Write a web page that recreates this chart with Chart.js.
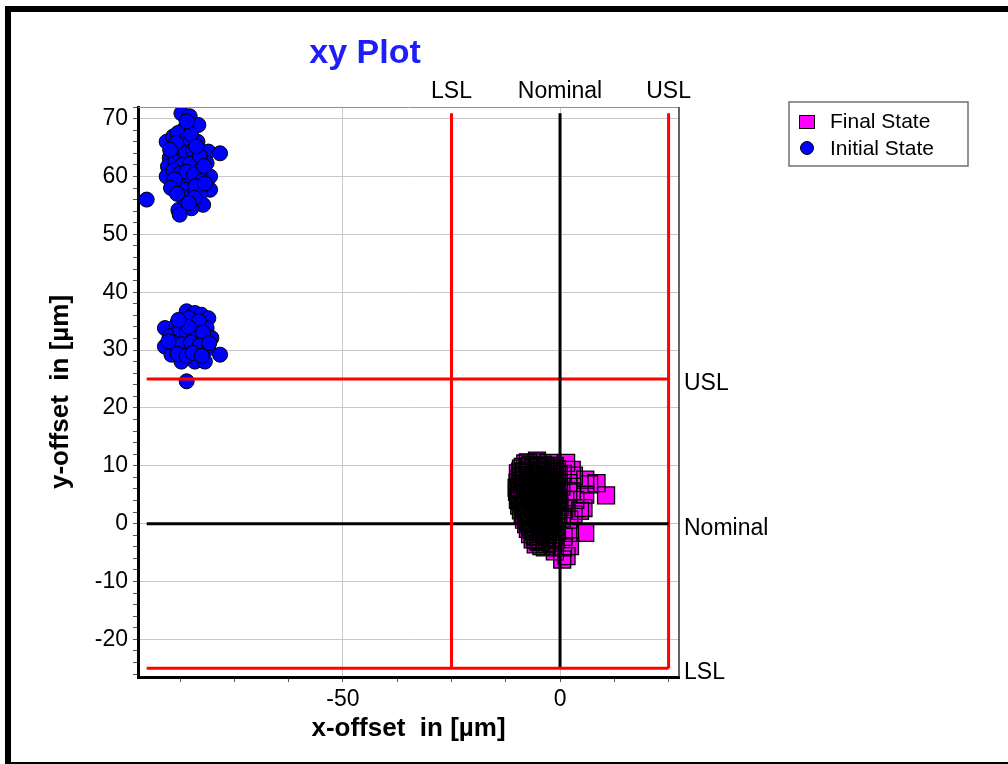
<!DOCTYPE html>
<html><head><meta charset="utf-8">
<script src="https://cdn.jsdelivr.net/npm/chart.js@4/dist/chart.umd.min.js"></script>
<style>html,body{margin:0;padding:0;background:#fff;}canvas{display:block;}</style>
</head><body>
<canvas id="c" width="1008" height="764"></canvas>
<script>
// ---------- data ----------
const seriesNames = ['Final State', 'Initial State'];
const limitNames = ['LSL', 'Nominal', 'USL'];
const limitValues = [-25, 0, 25];
const xTickValues = [-87.5, -75, -62.5, -50, -37.5, -25, -12.5, 0, 12.5, 25];
const xLabelValues = [-50, 0];
const yTickValues = [-26,-24,-22,-20,-18,-16,-14,-12,-10,-8,-6,-4,-2,0,2,4,6,8,10,12,14,16,18,20,22,24,26,28,30,32,34,36,38,40,42,44,46,48,50,52,54,56,58,60,62,64,66,68,70,72];
const yLabelValues = [-20, -10, 0, 10, 20, 30, 40, 50, 60, 70];

const initialState = [
 [-87.2,70.9],[-85.3,70.4],[-84.9,68.9],[-83.3,68.9],[-86.8,68.0],[-90.6,66.0],[-89.1,66.9],[-85.6,65.7],
 [-81.0,64.3],[-78.3,64.0],[-89.9,63.2],[-90.3,61.7],[-83.7,62.6],[-81.4,62.3],[-90.6,60.0],[-80.6,60.0],
 [-85.6,59.1],[-87.6,58.5],[-80.6,57.7],[-82.9,57.1],[-86.0,57.7],[-95.2,56.0],[-82.2,55.1],[-84.9,54.5],
 [-87.9,54.2],[-87.6,53.4],[-88.0,67.5],[-86.5,66.2],[-87.8,64.8],[-86.2,64.0],[-84.5,64.5],[-88.6,62.5],
 [-87.0,62.0],[-85.2,62.2],[-83.0,61.0],[-89.0,61.0],[-87.5,60.5],[-86.0,60.8],[-84.3,60.3],[-82.5,59.2],
 [-88.8,59.5],[-89.6,58.0],[-84.0,58.3],[-81.8,58.8],[-86.8,56.4],[-84.2,56.3],[-85.5,55.4],[-83.5,66.0],
 [-85.0,67.3],[-86.0,69.5],[-88.4,65.8],[-89.8,64.6],[-83.0,63.6],[-82.0,61.8],[-88.2,57.0],[-83.8,65.2],
 [-86.0,36.7],[-84.1,36.4],[-82.6,36.1],[-81.0,35.5],[-91.0,33.8],[-88.3,34.4],[-86.8,34.9],[-84.5,34.4],
 [-81.4,33.8],[-80.3,32.1],[-89.9,32.4],[-87.6,32.1],[-85.3,32.6],[-82.9,31.8],[-91.0,30.6],[-88.7,30.3],
 [-86.4,30.3],[-83.7,30.1],[-81.0,30.3],[-78.3,29.2],[-89.5,29.2],[-87.2,28.0],[-84.1,28.0],[-81.8,28.0],
 [-86.0,24.6],[-85.5,35.5],[-83.2,35.0],[-87.5,33.5],[-86.0,33.2],[-84.0,33.0],[-82.2,33.0],[-89.0,31.2],
 [-87.0,31.0],[-85.0,31.3],[-83.0,30.8],[-88.0,29.3],[-86.0,29.0],[-84.6,29.5],[-82.5,29.0],[-90.2,31.5],
 [-80.8,31.2],[-85.6,34.0],[-87.9,35.2]
];

const finalState = [
 [-8.0,10.4],[-6.8,10.1],[-5.4,10.6],[-4.0,10.2],[-2.6,10.5],[-1.2,10.0],
 [-9.0,9.5],[-7.5,9.2],[-6.1,9.6],[-4.6,9.3],[-3.3,9.7],[-1.9,9.1],[-0.7,9.4],
 [-9.7,8.7],[-8.3,8.4],[-7.0,8.8],[-5.7,8.5],[-4.3,8.9],[-2.9,8.3],[-1.5,8.7],[-0.3,8.5],
 [-9.3,7.9],[-8.0,7.6],[-6.6,8.0],[-5.2,7.7],[-3.8,7.9],[-2.4,7.5],[-1.1,7.8],
 [-9.8,7.1],[-8.6,6.8],[-7.3,7.2],[-5.9,6.9],[-4.6,7.1],[-3.2,6.7],[-1.9,7.0],[-0.6,6.9],
 [-9.5,6.3],[-8.1,6.0],[-6.8,6.4],[-5.3,6.1],[-4.0,6.3],[-2.7,5.9],[-1.3,6.2],[-0.2,6.0],
 [-9.9,5.5],[-8.7,5.2],[-7.4,5.6],[-6.1,5.3],[-4.8,5.5],[-3.5,5.1],[-2.1,5.4],[-0.8,5.2],
 [-9.6,4.7],[-8.2,4.4],[-6.9,4.8],[-5.6,4.5],[-4.2,4.7],[-2.9,4.3],[-1.6,4.6],[-0.3,4.4],
 [-9.2,3.9],[-7.8,3.6],[-6.4,4.0],[-5.0,3.7],[-3.7,3.9],[-2.4,3.5],[-1.0,3.8],
 [-9.4,3.1],[-8.0,2.8],[-6.7,3.2],[-5.4,2.9],[-4.1,3.1],[-2.7,2.7],[-1.3,3.0],[-0.1,2.9],
 [-9.0,2.3],[-7.6,2.0],[-6.2,2.4],[-4.9,2.1],[-3.5,2.3],[-2.2,1.9],[-0.8,2.2],
 [-8.6,1.5],[-7.2,1.2],[-5.8,1.6],[-4.4,1.3],[-3.0,1.5],[-1.7,1.1],[-0.4,1.4],
 [-8.3,0.7],[-6.9,0.4],[-5.5,0.8],[-4.1,0.5],[-2.8,0.7],[-1.4,0.3],
 [-7.8,-0.1],[-6.4,-0.4],[-5.0,0.0],[-3.6,-0.3],[-2.3,-0.1],[-1.0,-0.5],
 [-7.4,-0.9],[-6.0,-1.2],[-4.7,-0.8],[-3.3,-1.1],[-1.9,-0.9],[-0.7,-1.3],
 [-6.9,-1.8],[-5.5,-2.1],[-4.2,-1.7],[-2.8,-2.0],[-1.5,-1.8],
 [-6.3,-2.7],[-5.0,-3.0],[-3.7,-2.6],[-2.3,-2.9],[-1.0,-2.7],
 [-5.6,-3.6],[-4.3,-3.9],[-3.0,-3.5],[-1.6,-3.8],
 [-8.6,9.8],[-7.2,9.9],[-4.8,9.8],[-3.4,10.0],[-1.8,9.7],
 [-8.4,9.0],[-5.3,9.1],[-2.6,8.9],[-1.1,9.0],
 [-8.9,8.2],[-6.3,8.1],[-3.5,8.3],[-2.0,8.1],
 [-9.1,7.4],[-7.0,7.5],[-4.3,7.4],[-1.5,7.3],
 [-8.2,6.6],[-5.5,6.5],[-2.5,6.6],[-1.0,6.5],
 [-9.2,5.8],[-7.1,5.9],[-4.4,5.8],[-1.7,5.7],
 [-8.0,5.0],[-5.2,4.9],[-2.5,5.0],[-1.2,4.9],
 [-8.8,4.2],[-6.0,4.1],[-3.3,4.3],[-0.7,4.1],
 [-8.6,3.4],[-5.9,3.3],[-3.2,3.5],[-1.8,3.3],
 [-8.4,2.6],[-5.7,2.5],[-3.0,2.6],[-1.5,2.5],
 [-7.9,1.8],[-5.2,1.8],[-2.5,1.7],
 [-7.5,1.0],[-4.8,0.9],[-2.1,1.0],
 [-7.1,0.2],[-4.3,0.2],[-1.7,0.1],
 [-6.7,-0.6],[-4.0,-0.6],[-2.6,-0.7],
 [-6.2,-1.4],[-3.6,-1.5],[-1.2,-1.4],
 [-5.8,-2.3],[-3.2,-2.3],[-1.9,-2.4],
 [-4.7,-3.2],[-2.0,-3.3],
 [10.6,4.9],[8.4,7.0],[6.7,6.8],[5.8,7.6],[5.8,5.0],[5.4,2.7],[4.6,2.2],[2.7,9.3],[1.9,7.0],
 [2.7,5.6],[3.5,4.1],[3.1,1.6],[2.1,0.7],[2.3,-1.6],[5.8,-1.6],[2.3,-3.9],[1.5,-5.6],[0.7,-4.1],
 [1.2,4.1],[3.2,8.3],[1.4,10.5],[-1.5,9.9],[-5.3,10.9],[-7.4,10.6],[-9.2,9.0],[-10.0,6.2],
 [-9.7,4.1],[-8.3,1.6],[-6.9,-1.0],[-5.5,-2.8],[-3.5,-4.1],[-1.2,-4.8],[0.5,-6.2],[0.4,0.9],
 [0.8,-2.3],[1.0,2.5],[0.3,6.4],[0.6,8.6]
];

// ---------- build ----------
const FONT = '"Liberation Sans", Arial, sans-serif';
const toPts = arr => arr.map(p => ({x: p[0], y: p[1]}));
const allX = initialState.concat(finalState).map(p => p[0]);
const allY = initialState.concat(finalState).map(p => p[1]);
const lineXStart = Math.min(...allX);
const lineYEnd = Math.max(...allY);
const lineColor = v => v === 0 ? '#000000' : '#ff0000';

const limitDatasets = [];
limitValues.forEach(v => {
  limitDatasets.push({label: 'v' + v, data: [{x: v, y: limitValues[0]}, {x: v, y: lineYEnd}],
    showLine: true, borderColor: lineColor(v), borderWidth: 3, pointRadius: 0, order: 0});
  limitDatasets.push({label: 'h' + v, data: [{x: lineXStart, y: v}, {x: limitValues[2], y: v}],
    showLine: true, borderColor: lineColor(v), borderWidth: 3, pointRadius: 0, order: 0});
});

const decor = {
  id: 'decor',
  beforeDraw(chart) {
    const ctx = chart.ctx;
    ctx.save(); ctx.fillStyle = '#fff'; ctx.fillRect(0, 0, chart.width, chart.height); ctx.restore();
  },
  afterDraw(chart) {
    const {ctx, chartArea: a, scales: {x, y}} = chart;
    ctx.save();
    // plot frame top / right
    ctx.strokeStyle = '#909090'; ctx.lineWidth = 1;
    ctx.beginPath(); ctx.moveTo(a.left, a.top + 0.5); ctx.lineTo(a.right, a.top + 0.5); ctx.stroke();
    ctx.strokeStyle = '#303030'; ctx.lineWidth = 1.5;
    ctx.beginPath(); ctx.moveTo(a.right, a.top); ctx.lineTo(a.right, a.bottom); ctx.stroke();
    // outer frame
    ctx.fillStyle = '#000';
    ctx.fillRect(5, 6, 1003, 6); ctx.fillRect(5, 6, 6, 758); ctx.fillRect(5, 762, 1003, 2);
    // title
    ctx.fillStyle = 'rgb(30,30,250)'; ctx.font = 'bold 34px ' + FONT;
    ctx.textAlign = 'center'; ctx.textBaseline = 'alphabetic';
    ctx.fillText('xy Plot', 365, 63);
    // limit labels
    ctx.fillStyle = '#000'; ctx.font = '23px ' + FONT;
    limitNames.forEach((n, i) => {
      ctx.textAlign = 'center';
      ctx.fillText(n, x.getPixelForValue(limitValues[i]), 98);
      ctx.textAlign = 'left';
      ctx.fillText(n, a.right + 5, y.getPixelForValue(limitValues[i]) + 11);
    });
    // legend
    ctx.fillStyle = '#fff'; ctx.fillRect(789, 102, 179, 64);
    ctx.strokeStyle = '#707070'; ctx.lineWidth = 1.5; ctx.strokeRect(789, 102, 179, 64);
    ctx.fillStyle = '#ff00ff'; ctx.fillRect(800, 116, 14, 12);
    ctx.strokeStyle = '#000'; ctx.lineWidth = 1; ctx.strokeRect(799.5, 115.5, 15, 13);
    ctx.beginPath(); ctx.arc(807, 148, 6.5, 0, Math.PI * 2);
    ctx.fillStyle = '#0000ff'; ctx.fill(); ctx.stroke();
    ctx.fillStyle = '#000'; ctx.font = '21px ' + FONT; ctx.textAlign = 'left'; ctx.textBaseline = 'middle';
    ctx.fillText(seriesNames[0], 830, 122);
    ctx.fillText(seriesNames[1], 830, 149);
    ctx.restore();
  }
};

new Chart(document.getElementById('c'), {
  type: 'scatter',
  data: {
    datasets: limitDatasets.concat([
      {label: seriesNames[0] + ' outline', data: toPts(finalState), pointStyle: 'rect', pointRadius: 12,
       pointBackgroundColor: 'rgba(0,0,0,0)', pointBorderColor: '#000', pointBorderWidth: 1.3, order: 1},
      {label: seriesNames[0], data: toPts(finalState), pointStyle: 'rect', pointRadius: 12,
       pointBackgroundColor: '#ff00ff', pointBorderColor: '#ff00ff', pointBorderWidth: 0, order: 2},
      {label: seriesNames[1], data: toPts(initialState), pointStyle: 'circle', pointRadius: 7.5,
       pointBackgroundColor: '#0000ff', pointBorderColor: '#000', pointBorderWidth: 1, order: 3}
    ])
  },
  options: {
    responsive: false, animation: false, events: [],
    layout: {padding: {top: 107, right: 329, bottom: 0, left: 0}},
    plugins: {legend: {display: false}, tooltip: {enabled: false}, title: {display: false}},
    scales: {
      x: {
        type: 'linear', min: -97.2, max: 27.4,
        afterBuildTicks: s => { s.ticks = xTickValues.map(v => ({value: v})); },
        afterFit: s => { s.height = 87; },
        ticks: {autoSkip: false, maxRotation: 0, minRotation: 0, padding: 4, color: '#000',
          font: {family: FONT, size: 23},
          callback: v => xLabelValues.includes(v) ? String(v) : ''},
        grid: {color: c => (c.tick && xLabelValues.includes(c.tick.value)) ? '#c8c8c8' : 'rgba(0,0,0,0)',
          tickColor: '#555', tickLength: 5, lineWidth: 1},
        border: {color: '#000', width: 3},
        title: {display: true, text: 'x-offset  in [µm]', color: '#000',
          font: {family: FONT, size: 26, weight: 'bold'}, padding: {top: 0, bottom: 20}}
      },
      y: {
        type: 'linear', min: -26.5, max: 72,
        afterBuildTicks: s => { s.ticks = yTickValues.map(v => ({value: v})); },
        afterFit: s => { s.width = 138; },
        ticks: {autoSkip: false, padding: 5, color: '#000', font: {family: FONT, size: 23},
          callback: v => yLabelValues.includes(v) ? String(v) : ''},
        grid: {color: c => (c.tick && yLabelValues.includes(c.tick.value)) ? '#c8c8c8' : 'rgba(0,0,0,0)',
          tickColor: '#555', tickLength: 5, lineWidth: 1},
        border: {color: '#000', width: 3},
        title: {display: true, text: 'y-offset  in [µm]', color: '#000',
          font: {family: FONT, size: 26, weight: 'bold'}, padding: {top: 45, bottom: 0}}
      }
    }
  },
  plugins: [decor]
});
</script>
</body></html>
